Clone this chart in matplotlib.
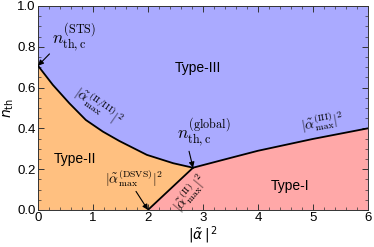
import numpy as np
import matplotlib
matplotlib.use("Agg")
import matplotlib.pyplot as plt
from matplotlib.ticker import MultipleLocator

plt.rcParams['font.family'] = ['Liberation Sans', 'DejaVu Sans']
plt.rcParams['mathtext.fontset'] = 'cm'

# Boundary Type-II / Type-III
x_23 = [0.0, 0.27, 0.57, 0.87, 1.18, 1.48, 1.98, 2.46, 2.82]
y_23 = [0.707, 0.613, 0.523, 0.441, 0.384, 0.338, 0.270, 0.229, 0.207]
# Boundary Type-I / Type-III
x_13 = [2.82, 3.5, 4.0, 5.0, 6.0]
y_13 = [0.207, 0.255, 0.290, 0.348, 0.400]
# Boundary Type-I / Type-II
x_12 = [2.0, 2.82]
y_12 = [0.0, 0.207]

region_labels = ["Type-III", "Type-II", "Type-I"]

c_blue = "#AAAAFF"
c_orange = "#FFC080"
c_pink = "#FFA8A8"

fig = plt.figure(figsize=(3.74, 2.47), dpi=100)
ax = fig.add_axes([0.1016, 0.150, 0.882, 0.826])
ax.set_xlim(0, 6)
ax.set_ylim(0, 1)

# Type-III (background)
ax.set_facecolor(c_blue)
# Type-II region
px = [0.0] + x_23 + [x_12[0]]
py = [0.0] + y_23 + [y_12[0]]
ax.fill(px, py, color=c_orange, lw=0, zorder=1)
# Type-I region
px = x_12 + x_13[1:] + [x_13[-1]]
py = y_12 + y_13[1:] + [0.0]
ax.fill(px, py, color=c_pink, lw=0, zorder=1)

for xs, ys in [(x_23, y_23), (x_13, y_13), (x_12, y_12)]:
    ax.plot(xs, ys, color='black', lw=1.3, zorder=3, solid_capstyle='round',
            solid_joinstyle='round')

ax.text(2.91, 0.695, region_labels[0], fontsize=10, ha='center', va='center')
ax.text(0.67, 0.25, region_labels[1], fontsize=10, ha='center', va='center')
ax.text(4.58, 0.118, region_labels[2], fontsize=10, ha='center', va='center')

arrowprops = dict(arrowstyle='-|>', color='black', lw=0.8,
                  mutation_scale=8, shrinkA=0, shrinkB=0)
ax.annotate(r"$n_{\mathrm{th,c}}^{\mathrm{(STS)}}$", xy=(0.0, 0.707),
            xytext=(0.66, 0.845), fontsize=12.5, ha='center', va='center',
            arrowprops=dict(arrowprops, relpos=(0.05, 0.15)), zorder=5)
ax.annotate(r"$n_{\mathrm{th,c}}^{\mathrm{(global)}}$", xy=(2.82, 0.207),
            xytext=(3.02, 0.38), fontsize=12.5, ha='center', va='center',
            arrowprops=dict(arrowprops, relpos=(0.2, 0.05)), zorder=5)
ax.annotate(r"$|\tilde{\alpha}_{\max}^{\mathrm{(DSVS)}}|^2$", xy=(2.0, 0.0),
            xytext=(1.75, 0.155), fontsize=10, ha='center', va='center',
            arrowprops=dict(arrowprops, relpos=(0.5, 0.0)), zorder=5)

ax.text(1.1, 0.51, r"$|\tilde{\alpha}_{\max}^{\mathrm{(II/III)}}|^2$",
        fontsize=10, ha='center', va='center', rotation=-35, rotation_mode='anchor')
ax.text(2.76, 0.085, r"$|\tilde{\alpha}_{\max}^{\mathrm{(II)}}|^2$",
        fontsize=10, ha='center', va='center', rotation=50, rotation_mode='anchor')
ax.text(5.17, 0.43, r"$|\tilde{\alpha}_{\max}^{\mathrm{(III)}}|^2$",
        fontsize=10, ha='center', va='center', rotation=10, rotation_mode='anchor')

ax.set_xticks([0, 1, 2, 3, 4, 5, 6])
ax.set_yticks([0.0, 0.2, 0.4, 0.6, 0.8, 1.0])
ax.set_yticklabels(["0.0", "0.2", "0.4", "0.6", "0.8", "1.0"])
ax.xaxis.set_minor_locator(MultipleLocator(0.2))
ax.yaxis.set_minor_locator(MultipleLocator(0.05))
ax.tick_params(which='both', direction='in', top=True, right=True,
               labelsize=9.5, color='#333333', pad=1.5)
ax.tick_params(which='major', length=4, width=0.7)
ax.tick_params(which='minor', length=2, width=0.5)
for s in ax.spines.values():
    s.set_linewidth(0.7)
    s.set_color('#333333')

ax.set_xlabel(r"$|\tilde{\alpha}\,|^{\,2}$", fontsize=10, math_fontfamily='dejavusans', labelpad=0)
ax.set_ylabel(r"$n_{\mathrm{th}}$", fontsize=10, math_fontfamily='dejavusans', labelpad=1)

fig.savefig("out.png", dpi=100)
